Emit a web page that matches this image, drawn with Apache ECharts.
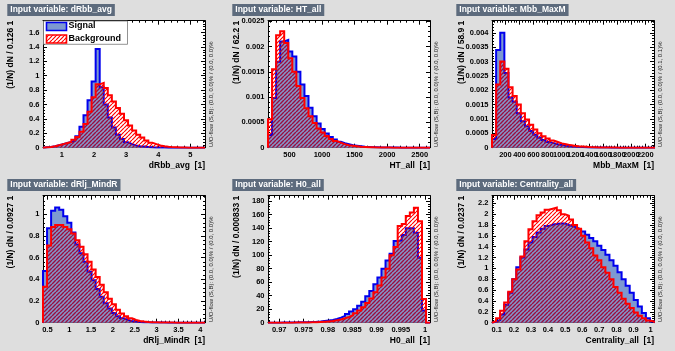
<!DOCTYPE html>
<html><head><meta charset="utf-8">
<script src="https://cdn.jsdelivr.net/npm/echarts@6/dist/echarts.min.js"></script>
<style>html,body{margin:0;padding:0;background:#dedede;}#c{width:675px;height:351px;}</style>
</head><body><div id="c"></div>
<script>
// ---------------- data ----------------
const variables = ['dRbb_avg', 'HT_all', 'Mbb_MaxM', 'dRlj_MindR', 'H0_all', 'Centrality_all'];
const binWidthLabels = ['0.126', '62.2', '58.9', '0.0927', '0.000833', '0.0237'];
const binWidths = [0.126, 62.2, 58.9, 0.0927, 0.000833, 0.0237];
const binStarts = [0.414, 170, 8, 0.40, 0.9677, 0.072];
const xMins = [0.414, 170, 8, 0.40, 0.9677, 0.072];
const xMaxs = [5.454, 2658, 2325, 4.108, 1.0010, 1.020];
const xTickSteps = [1, 500, 200, 0.5, 0.005, 0.1];
const yMaxs = [1.764, 0.00251, 0.00442, 1.169, 188, 2.34];
const yTickSteps = [0.2, 0.0005, 0.0005, 0.2, 20, 0.2];
const overflowTexts = [
  'U/O-flow (S,B): (0.0, 0.0)% / (0.0, 0.0)%',
  'U/O-flow (S,B): (0.0, 0.0)% / (0.0, 0.0)%',
  'U/O-flow (S,B): (0.0, 0.0)% / (0.1, 0.1)%',
  'U/O-flow (S,B): (0.0, 0.0)% / (0.0, 0.0)%',
  'U/O-flow (S,B): (0.0, 0.0)% / (0.0, 0.0)%',
  'U/O-flow (S,B): (0.0, 0.0)% / (0.0, 0.0)%'
];
const legendNames = ['Signal', 'Background'];

const sig_dRbb_avg = [0.005,0.01,0.02,0.035,0.05,0.065,0.08,0.1,0.16,0.29,0.45,0.66,0.92,1.37,0.84,0.6,0.42,0.28,0.18,0.12,0.075,0.05,0.03,0.02,0.015,0.01,0.006,0.004,0.003,0.002,0.001,0.001,0.001,0,0,0,0,0,0,0];
const bkg_dRbb_avg = [0.005,0.01,0.02,0.035,0.05,0.065,0.08,0.11,0.15,0.22,0.33,0.5,0.7,0.88,0.9,0.83,0.73,0.64,0.55,0.47,0.38,0.31,0.24,0.18,0.14,0.1,0.07,0.05,0.03,0.02,0.013,0.008,0.005,0.003,0.002,0.001,0.001,0.001,0,0];

const sig_HT_all = [0.00025,0.00098,0.0017,0.0021,0.00213,0.0019,0.0018,0.0015,0.00125,0.00102,0.00079,0.00062,0.00048,0.00037,0.00028,0.00021,0.00016,0.00012,0.00009,0.00007,0.00005,0.00004,0.00003,0.00002,0.000015,0.00001,0.000008,0.000006,0.000004,0.000003,0.000002,0.000002,0.000001,0.000001,0,0,0,0,0,0];
const bkg_HT_all = [0.00056,0.00155,0.00222,0.0023,0.00207,0.00177,0.0015,0.00122,0.00098,0.00078,0.00062,0.00049,0.00038,0.0003,0.00023,0.00017,0.00013,0.0001,0.00007,0.00005,0.00004,0.00003,0.00002,0.000015,0.00001,0.000008,0.000005,0.000004,0.000003,0.000002,0.000001,0.000001,0,0,0,0,0,0,0,0];

const sig_Mbb_MaxM = [0.0003,0.0034,0.004,0.0026,0.00175,0.0016,0.0012,0.00092,0.00075,0.00058,0.00045,0.00035,0.00027,0.0002,0.00016,0.00012,0.00009,0.00007,0.00005,0.00004,0.00003,0.00002,0.000015,0.00001,0.000008,0.000006,0.000004,0.000003,0.000002,0.000001,0.000001,0,0,0,0,0,0,0,0,0];
const bkg_Mbb_MaxM = [0.00044,0.0022,0.003,0.00275,0.0021,0.0018,0.0015,0.0012,0.00098,0.0008,0.00063,0.0005,0.0004,0.00032,0.00025,0.0002,0.00015,0.00012,0.00009,0.00007,0.00005,0.00004,0.00003,0.00002,0.000015,0.00001,0.000008,0.000006,0.000004,0.000003,0.000002,0.000002,0.000001,0.000001,0,0,0,0,0,0];

const sig_dRlj_MindR = [0.475,0.87,1.03,1.06,1.04,0.98,0.92,0.83,0.72,0.64,0.56,0.47,0.39,0.31,0.24,0.18,0.13,0.09,0.06,0.04,0.025,0.015,0.01,0.006,0.004,0.003,0.002,0.001,0.001,0.001,0,0,0,0,0,0,0,0,0,0];
const bkg_dRlj_MindR = [0.33,0.71,0.88,0.9,0.9,0.88,0.86,0.82,0.76,0.7,0.63,0.56,0.49,0.42,0.35,0.28,0.22,0.17,0.12,0.085,0.06,0.04,0.025,0.015,0.01,0.007,0.005,0.003,0.002,0.001,0.001,0.001,0,0,0,0,0,0,0,0];

const sig_H0_all = [0.1,0.1,0.1,0.2,0.2,0.3,0.4,0.5,0.6,0.8,1.0,1.3,1.8,2.5,3.2,4,5.5,7.5,10,13,16.5,20,25,31,39,47,57,67,80,92,102,121,122,130,140,140,133,96,18,0];
const bkg_H0_all = [0.05,0.05,0.05,0.1,0.1,0.1,0.2,0.2,0.3,0.4,0.5,0.7,1.0,1.4,1.9,2.5,3.5,4.8,6.5,8.5,11,14,18,23,29,36,45,55,67,80,100,112,143,146,158,163,170,150,35,0];

const sig_Centrality_all = [0.02,0.05,0.15,0.33,0.55,0.8,1.02,1.2,1.35,1.48,1.58,1.66,1.73,1.78,1.81,1.82,1.83,1.83,1.8,1.78,1.75,1.72,1.68,1.62,1.56,1.5,1.42,1.34,1.25,1.15,1.05,0.93,0.8,0.68,0.55,0.42,0.3,0.18,0.08,0.02];
const bkg_Centrality_all = [0.03,0.08,0.22,0.37,0.57,0.8,0.98,1.22,1.5,1.72,1.87,1.98,2.03,2.08,2.1,2.12,2.07,2.0,1.97,1.9,1.8,1.73,1.6,1.48,1.37,1.24,1.15,1.02,0.92,0.8,0.66,0.55,0.44,0.35,0.27,0.19,0.13,0.08,0.04,0.02];

const signalSets = [sig_dRbb_avg, sig_HT_all, sig_Mbb_MaxM, sig_dRlj_MindR, sig_H0_all, sig_Centrality_all];
const backgroundSets = [bkg_dRbb_avg, bkg_HT_all, bkg_Mbb_MaxM, bkg_dRlj_MindR, bkg_H0_all, bkg_Centrality_all];

// ---------------- layout / style ----------------
const colLeft = [43, 268, 492];
const rowTop = [20.7, 195.7];
const plotW = 162, plotH = 127;
const yTitleX = [10.3, 236.7, 461.7];
const FONT = '"Liberation Sans", Arial, Helvetica, sans-serif';
const SIG_FILL = '#7d99d1', SIG_LINE = '#0000ee', BKG_LINE = '#ff0000', MIX_LINE = '#7a1656';

function makeHatch(size, color, lw) {
  const c = document.createElement('canvas');
  c.width = size; c.height = size;
  const g = c.getContext('2d');
  g.strokeStyle = color; g.lineWidth = lw;
  g.beginPath();
  for (let k = -1; k <= 1; k++) { g.moveTo(k * size, size); g.lineTo(k * size + size, 0); }
  g.stroke();
  return c;
}
const hatchFill = { image: makeHatch(4, BKG_LINE, 1.2), repeat: 'repeat' };
const mixFill = { image: makeHatch(4, MIX_LINE, 1.2), repeat: 'repeat' };

function fmt(v) { return String(parseFloat(Number(v).toPrecision(10))); }

function histPoints(x0, w, vals) {
  const pts = [[x0, 0]];
  vals.forEach((v, i) => { pts.push([x0 + w * i, v]); pts.push([x0 + w * (i + 1), v]); });
  pts.push([x0 + w * vals.length, 0]);
  return pts;
}

const grids = [], xAxes = [], yAxes = [], series = [], graphics = [];
const tickLine = { color: '#000', width: 1 };
const labelStyle = { fontFamily: FONT, fontWeight: 'bold', fontSize: 7.5, color: '#000' };

for (let i = 0; i < 6; i++) {
  const col = i % 3, row = Math.floor(i / 3);
  const L = colLeft[col], T = rowTop[row];
  grids.push({ left: L, top: T, width: plotW, height: plotH, show: true, backgroundColor: '#ffffff', borderWidth: 0 });
  ['bottom', 'top'].forEach(pos => {
    xAxes.push({
      type: 'value', gridIndex: i, position: pos, min: xMins[i], max: xMaxs[i],
      minInterval: xTickSteps[i], maxInterval: xTickSteps[i],
      axisLine: { show: true, onZero: false, lineStyle: tickLine },
      axisTick: { show: true, inside: true, length: 4, lineStyle: tickLine },
      minorTick: { show: true, splitNumber: 5, length: 2, lineStyle: tickLine },
      splitLine: { show: false }, minorSplitLine: { show: false },
      axisLabel: pos === 'bottom' ? Object.assign({ show: true, margin: 3, showMinLabel: false, showMaxLabel: false, formatter: fmt }, labelStyle) : { show: false }
    });
  });
  ['left', 'right'].forEach(pos => {
    yAxes.push({
      type: 'value', gridIndex: i, position: pos, min: 0, max: yMaxs[i],
      minInterval: yTickSteps[i], maxInterval: yTickSteps[i],
      axisLine: { show: true, onZero: false, lineStyle: tickLine },
      axisTick: { show: true, inside: true, length: 4, lineStyle: tickLine },
      minorTick: { show: true, splitNumber: 5, length: 2, lineStyle: tickLine },
      splitLine: { show: false }, minorSplitLine: { show: false },
      axisLabel: pos === 'left' ? Object.assign({ show: true, margin: 3.5, showMaxLabel: false, formatter: fmt }, labelStyle) : { show: false }
    });
  });
  const sig = signalSets[i], bkg = backgroundSets[i];
  const common = { type: 'line', xAxisIndex: 2 * i, yAxisIndex: 2 * i, symbol: 'none', showSymbol: false, animation: false, silent: true, clip: true };
  // signal: blue fill + blue outline
  series.push(Object.assign({ name: legendNames[0], z: 2, data: histPoints(binStarts[i], binWidths[i], sig),
    lineStyle: { color: SIG_LINE, width: 2, join: 'miter' }, areaStyle: { color: SIG_FILL, opacity: 1 } }, common));
  // background: red hatch fill
  series.push(Object.assign({ name: legendNames[1], z: 3, data: histPoints(binStarts[i], binWidths[i], bkg),
    lineStyle: { width: 0, opacity: 0 }, areaStyle: { color: hatchFill, opacity: 1 } }, common));
  // where the red hatch lies on the blue fill the strokes look darker (purple)
  series.push(Object.assign({ name: legendNames[1] + ' (on signal)', z: 4, data: histPoints(binStarts[i], binWidths[i], sig.map((v, k) => Math.min(v, bkg[k]))),
    lineStyle: { width: 0, opacity: 0 }, areaStyle: { color: mixFill, opacity: 0.85 } }, common));
  // background outline
  series.push(Object.assign({ name: legendNames[1] + ' outline', z: 5, data: histPoints(binStarts[i], binWidths[i], bkg),
    lineStyle: { color: BKG_LINE, width: 2, join: 'miter' } }, common));

  // title box
  graphics.push({ type: 'text', x: L - 35.7, y: T - 16.7, z: 100,
    style: { text: 'Input variable: ' + variables[i], fill: '#ffffff', font: 'bold 8.5px ' + FONT,
      backgroundColor: '#5d6b7d', padding: [1.6, 3, 1.4, 3], align: 'left', verticalAlign: 'top' } });
  // y title
  graphics.push({ type: 'text', x: yTitleX[col], y: T, rotation: Math.PI / 2, z: 100,
    style: { text: '(1/N) dN / ' + binWidthLabels[i] + ' 1', fill: '#000', font: 'bold 8.5px ' + FONT, align: 'right', verticalAlign: 'middle' } });
  // x title
  graphics.push({ type: 'text', x: L + plotW, y: T + plotH + 18, z: 100,
    style: { text: variables[i] + '  [1]', fill: '#000', font: 'bold 8.5px ' + FONT, align: 'right', verticalAlign: 'middle' } });
  // overflow text
  graphics.push({ type: 'text', x: L + plotW + 6.3, y: T + plotH - 0.5, rotation: Math.PI / 2, z: 100,
    style: { text: overflowTexts[i], fill: '#222', font: '6px ' + FONT, align: 'left', verticalAlign: 'middle' } });
}

// legend (panel 1)
graphics.push({ type: 'rect', z: 100, shape: { x: 43.5, y: 21, width: 84, height: 23.3 }, style: { fill: '#ffffff', stroke: '#777', lineWidth: 0.8 } });
graphics.push({ type: 'rect', z: 101, shape: { x: 46.5, y: 22.5, width: 20, height: 8 }, style: { fill: SIG_FILL, stroke: SIG_LINE, lineWidth: 1.6 } });
graphics.push({ type: 'rect', z: 101, shape: { x: 46.5, y: 35, width: 20, height: 8 }, style: { fill: hatchFill, stroke: BKG_LINE, lineWidth: 1.6 } });
graphics.push({ type: 'text', z: 101, x: 68.5, y: 26, style: { text: legendNames[0], fill: '#000', font: 'bold 9px ' + FONT, align: 'left', verticalAlign: 'middle' } });
graphics.push({ type: 'text', z: 101, x: 68.5, y: 38.8, style: { text: legendNames[1], fill: '#000', font: 'bold 9px ' + FONT, align: 'left', verticalAlign: 'middle' } });

const chart = echarts.init(document.getElementById('c'), null, { renderer: 'canvas' });
chart.setOption({
  backgroundColor: '#dedede',
  animation: false,
  grid: grids, xAxis: xAxes, yAxis: yAxes, series: series,
  graphic: { elements: graphics }
});
</script></body></html>
